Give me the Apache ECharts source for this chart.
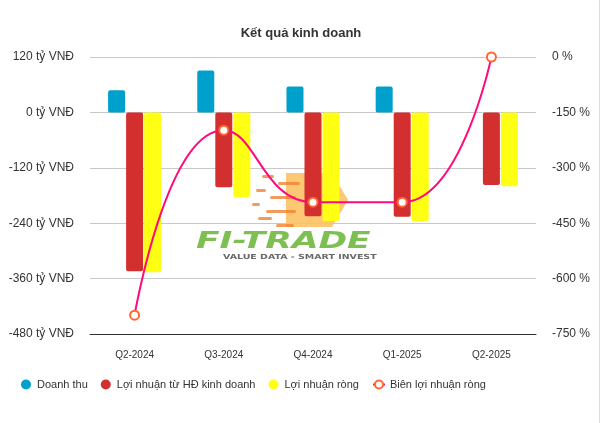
<!DOCTYPE html>
<html>
<head>
<meta charset="utf-8">
<script src="https://cdn.jsdelivr.net/npm/echarts@6/dist/echarts.min.js"></script>
<style>
  html, body { margin: 0; padding: 0; background: #fff; }
  #chart { width: 602px; height: 423px; }
</style>
</head>
<body>
<div id="chart"></div>
<script>
// du lieu doc tu hinh
const quarters = ['Q2-2024', 'Q3-2024', 'Q4-2024', 'Q1-2025', 'Q2-2025'];
const doanhThu = [48, 91, 56, 56, null];
const loiNhuanHD = [-344, -162, -225, -226, -157];
const loiNhuanRong = [-346, -183, -235, -236, -160];
const bienLoiNhuan = [-699, -198, -393, -393, 0];

// logo chim mo (trang tri)
const dashes = [
  [262, 175, 12], [278, 182, 22], [256, 189, 10], [270, 196, 26], [252, 203, 8],
  [266, 210, 30], [258, 217, 14], [276, 224, 18]
];
const logo = [
  {
    type: 'polygon',
    z: 0,
    shape: { points: [[286, 173], [332, 173], [348, 200], [332, 227], [286, 227]] },
    style: { fill: 'rgba(252,182,70,0.75)' }
  }
];
dashes.forEach(function (d) {
  logo.push({
    type: 'rect',
    z: 0,
    shape: { x: d[0], y: d[1], width: d[2], height: 3, r: 1.5 },
    style: { fill: 'rgba(240,130,50,0.8)' }
  });
});
logo.push(
  {
    type: 'text',
    z: 0,
    x: 196,
    y: 231,
    scaleX: 1.5,
    style: { text: 'FI-TRADE', font: 'italic bold 23px DejaVu Sans', fill: 'rgba(112,184,62,0.9)' }
  },
  {
    type: 'text',
    z: 0,
    x: 223,
    y: 254,
    scaleX: 1.35,
    style: { text: 'VALUE DATA - SMART INVEST', font: 'bold 7px DejaVu Sans', fill: '#6a6a6a' }
  },
  {
    type: 'line',
    shape: { x1: 599.5, y1: 0, x2: 599.5, y2: 423 },
    style: { stroke: '#ddd' }
  }
);

const myChart = echarts.init(document.getElementById('chart'));
myChart.setOption({
  textStyle: { fontFamily: 'Liberation Sans, Arial, sans-serif' },
  title: {
    text: 'Kết quả kinh doanh',
    left: 'center',
    top: 22,
    textStyle: { fontSize: 13, fontWeight: 'bold', color: '#333' }
  },
  legend: {
    bottom: 28,
    left: 16,
    itemGap: 13,
    itemWidth: 12,
    itemHeight: 10,
    textStyle: { fontSize: 11, color: '#333' },
    data: [
      { name: 'Doanh thu', icon: 'circle' },
      { name: 'Lợi nhuận từ HĐ kinh doanh', icon: 'circle' },
      { name: 'Lợi nhuận ròng', icon: 'circle' },
      { name: 'Biên lợi nhuận ròng' }
    ]
  },
  grid: { left: 90, right: 66, top: 57, bottom: 89 },
  xAxis: {
    type: 'category',
    data: quarters,
    axisTick: { show: false },
    axisLine: { onZero: false, lineStyle: { color: '#333' } },
    axisLabel: { color: '#333', fontSize: 10, margin: 16 }
  },
  yAxis: [
    {
      type: 'value',
      min: -480,
      max: 120,
      interval: 120,
      axisLabel: { formatter: '{value} tỷ VNĐ', color: '#333', fontSize: 12, margin: 16 },
      splitLine: { lineStyle: { color: '#c8c8c8' } }
    },
    {
      type: 'value',
      min: -750,
      max: 0,
      interval: 150,
      axisLabel: { formatter: '{value} %', color: '#333', fontSize: 12, margin: 16 },
      splitLine: { show: false }
    }
  ],
  graphic: logo,
  series: [
    {
      name: 'Doanh thu',
      type: 'bar',
      barWidth: 17,
      barGap: '6%',
      data: doanhThu,
      itemStyle: { color: '#00a0cc', borderRadius: 2 }
    },
    {
      name: 'Lợi nhuận từ HĐ kinh doanh',
      type: 'bar',
      barWidth: 17,
      barGap: '6%',
      data: loiNhuanHD,
      itemStyle: { color: '#d32f2f', borderRadius: 2 }
    },
    {
      name: 'Lợi nhuận ròng',
      type: 'bar',
      barWidth: 17,
      barGap: '6%',
      data: loiNhuanRong,
      itemStyle: { color: '#ffff14', borderRadius: 2 }
    },
    {
      name: 'Biên lợi nhuận ròng',
      type: 'line',
      yAxisIndex: 1,
      smooth: true,
      symbol: 'circle',
      symbolSize: 9,
      z: 5,
      data: bienLoiNhuan,
      lineStyle: { color: '#ff0a7e', width: 2 },
      itemStyle: { color: '#fff', borderColor: '#ff6633', borderWidth: 2 }
    }
  ]
});
</script>
</body>
</html>
